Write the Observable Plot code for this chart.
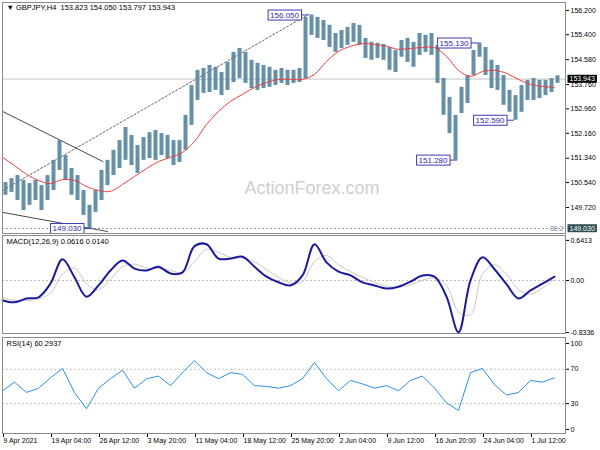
<!DOCTYPE html>
<html><head><meta charset="utf-8">
<script src="https://cdn.jsdelivr.net/npm/d3@7"></script>
<script src="https://cdn.jsdelivr.net/npm/@observablehq/plot@0.6"></script>
<style>
body{margin:0;background:#fff;}
#c{position:relative;width:600px;height:450px;overflow:hidden;background:#fff;}
#c svg{position:absolute;left:0;}
</style></head><body><div id="c"></div>
<script>
// ---- data ----
const symbolHeader = "\u25BC GBPJPY,H4  153.823 154.050 153.797 153.943";
const macdHeader = "MACD(12,26,9) 0.0616 0.0140";
const rsiHeader = "RSI(14) 60.2937";
const groupBars = 4; // bars per price sample
const priceHi = [150.54,150.67,150.77,150.61,150.51,150.61,150.44,150.77,151.27,151.92,
 151.43,151.00,150.77,150.28,149.79,150.28,150.94,151.27,151.60,151.92,
 152.35,152.09,151.76,152.02,152.18,152.25,152.15,152.09,151.92,151.92,
 152.75,153.73,154.23,154.29,154.39,154.33,154.16,154.49,154.82,154.95,
 154.82,154.56,154.46,154.39,154.33,154.23,154.29,154.23,154.23,154.29,
 155.97,156.05,155.97,155.87,155.71,155.44,155.54,155.64,155.77,155.71,
 155.28,155.15,155.12,155.08,154.98,154.88,155.21,155.28,155.15,155.44,
 155.38,155.44,155.05,153.96,153.34,152.75,153.67,154.06,154.88,155.13,
 154.98,154.56,154.39,154.06,153.57,153.40,153.73,153.90,153.96,153.90,
 153.90,153.96,154.05];
const priceLo = [150.12,150.21,149.95,149.62,149.79,149.95,149.62,149.95,150.28,150.94,
 150.61,150.12,149.95,149.46,149.03,149.56,149.95,150.44,150.77,151.00,
 151.27,151.10,150.84,151.27,151.33,151.27,151.43,151.33,151.10,151.20,
 151.60,152.42,153.24,153.47,153.50,153.57,153.40,153.57,153.83,153.96,
 153.80,153.63,153.57,153.63,153.67,153.73,153.80,153.73,153.80,153.83,
 153.96,155.38,155.28,155.21,154.98,154.82,154.95,155.05,155.15,155.05,
 154.62,154.56,154.62,154.56,154.23,154.16,154.66,154.49,154.33,154.72,
 154.82,154.72,153.80,152.75,152.15,151.28,152.81,153.14,154.06,154.66,
 154.06,153.63,153.57,153.08,152.85,152.59,152.85,153.24,153.24,153.30,
 153.40,153.50,153.80];
const indStep = 8; // bars per indicator sample
const maValues = [151.37,151.10,150.81,150.61,150.51,150.64,150.61,150.41,150.28,150.25,
 150.48,150.74,151.00,151.23,151.37,151.53,151.89,152.45,152.88,153.21,
 153.44,153.67,153.83,153.93,153.93,153.93,154.10,154.52,154.85,155.02,
 155.11,155.08,155.02,154.92,154.95,154.98,154.98,154.69,154.23,154.03,
 154.19,154.23,154.13,153.93,153.77,153.70,153.67];
const macdValues = [-0.32,-0.35,-0.29,-0.27,-0.05,0.34,0.05,-0.26,-0.08,0.16,
 0.32,0.19,0.16,0.22,0.11,0.13,0.55,0.58,0.35,0.35,
 0.38,0.22,0.06,-0.03,-0.08,0.08,0.58,0.29,0.14,0.08,
 -0.03,-0.08,-0.13,-0.10,-0.02,0.08,0.06,-0.26,-0.83,0.00,
 0.37,0.18,-0.06,-0.29,-0.16,-0.05,0.06];
const signalValues = [-0.28,-0.32,-0.32,-0.30,-0.20,0.10,0.20,-0.05,-0.15,0.02,
 0.22,0.26,0.20,0.19,0.16,0.12,0.30,0.50,0.45,0.37,
 0.36,0.30,0.17,0.05,-0.04,-0.02,0.30,0.40,0.25,0.14,
 0.05,-0.03,-0.09,-0.11,-0.07,0.00,0.04,-0.08,-0.50,-0.55,
 0.10,0.25,0.10,-0.15,-0.22,-0.12,0.01];
const rsiValues = [45,55,43,48,60,71,43,24,48,59,
 69,48,59,62,51,66,80,66,59,66,
 64,51,50,48,51,59,78,59,45,57,
 53,48,51,45,57,62,48,31,22,66,
 71,52,40,43,57,55,60];
const lastClose = 153.943;
const fibLevel = 149.030;
const fibText = "38.2";
const markLabels = [ // bar index of extreme, price
 {i:204, p:156.050},{i:317, p:155.130},{i:341, p:152.590},{i:303, p:151.280},{i:59, p:149.030}];
const trendUpper = [{i:0,p:152.88},{i:67,p:151.23}];
const trendLower = [{i:0,p:149.56},{i:70,p:148.93}];
const trendDashed = [{i:0,p:150.28},{i:204,p:156.07}];
const priceTicks = [156.200,155.400,154.580,153.760,152.960,152.160,151.340,150.540,149.720];
const macdTicks = [0.6413,0,-0.8336];
const macdTickLabels = ["0.6413","0.00","-0.8336"];
const rsiTicks = [100,70,30,0];
const xTickBars = [0,32,64,96,128,160,192,224,256,288,320,352];
const xTickLabels = ["9 Apr 2021","19 Apr 04:00","26 Apr 12:00","3 May 20:00","11 May 04:00","18 May 12:00","25 May 20:00","2 Jun 04:00","9 Jun 12:00","16 Jun 20:00","24 Jun 04:00","1 Jul 12:00"];

// ---- tables ----
const bars = priceHi.map((h,g)=>({i:g*groupBars+2, hi:h, lo:priceLo[g]}));
const ind = maValues.map((m,k)=>({i:k*indStep, ma:m, macd:macdValues[k], sig:signalValues[k], rsi:rsiValues[k]}));

const FONT = "Liberation Sans, Arial, sans-serif";
const xDom = [0, 375.33];
const frameC = "#8a8a8a";
const baseStyle = {fontFamily: FONT, fontSize: "7px", background: "transparent", overflow: "visible", color: "#000"};
const c = document.getElementById("c");

function place(svg, top){ svg.style.top = top + "px"; c.appendChild(svg); }
function boxify(svg, cls, fill, stroke){
  svg.querySelectorAll(`g.${cls} text`).forEach(t=>{
    const b = t.getBBox();
    const r = document.createElementNS("http://www.w3.org/2000/svg","rect");
    r.setAttribute("x", b.x-2); r.setAttribute("y", b.y-0.5);
    r.setAttribute("width", b.width+4); r.setAttribute("height", b.height+1);
    r.setAttribute("fill", fill); if (stroke) r.setAttribute("stroke", stroke);
    const tr = t.getAttribute("transform"); if (tr) r.setAttribute("transform", tr);
    t.parentNode.insertBefore(r, t);
  });
}

// ---- main price panel ----
const main = Plot.plot({
  width: 600, height: 235, marginLeft: 2, marginRight: 35, marginTop: 2, marginBottom: 2,
  x: {domain: xDom, axis: null},
  y: {domain: [148.865, 156.46], axis: null},
  style: baseStyle,
  marks: [
    Plot.text(["ActionForex.com"], {frameAnchor: "middle", dx: 28, dy: 70, fontSize: 18, fill: "#cfcfcf"}),
    Plot.ruleY([fibLevel], {stroke: "#9a9a9a", strokeDasharray: "2,2"}),
    Plot.ruleY([lastClose], {stroke: "#c4c4c4"}),
    Plot.line(trendDashed, {x: "i", y: "p", stroke: "#555", strokeDasharray: "2,2", strokeWidth: 0.9}),
    Plot.line(trendUpper, {x: "i", y: "p", stroke: "#333", strokeWidth: 0.9}),
    Plot.line(trendLower, {x: "i", y: "p", stroke: "#333", strokeWidth: 0.9}),
    Plot.ruleX(bars, {x: "i", y1: "lo", y2: "hi", stroke: "#5584a0", strokeWidth: 4, strokeOpacity: 0.9}),
    Plot.line(ind, {x: "i", y: "ma", stroke: "#f03c3c", strokeWidth: 1, curve: "catmull-rom"}),
    Plot.link(markLabels, {x1: d=>d.i-5, x2: "i", y1: "p", y2: "p", stroke: "#3a3ab8"}),
    Plot.text(markLabels, {x: d=>d.i-5, y: "p", text: d=>d.p.toFixed(3), textAnchor: "end", dx: -2, fontSize: 8, fill: "#2a2aa8", className: "plbl"}),
    Plot.text([fibText], {frameAnchor: "bottom-right", dx: -2, dy: -3, fill: "#7890a8", fontSize: 7}),
    Plot.axisY({anchor: "right", label: null, ticks: priceTicks, tickSize: 3, tickPadding: 2, tickFormat: d=>d.toFixed(3), fontSize: 7}),
    Plot.text([lastClose], {x: xDom[1], y: d=>d, dx: 4, textAnchor: "start", text: d=>d.toFixed(3), fill: "white", fontSize: 7, className: "pbk"}),
    Plot.text([fibLevel], {x: xDom[1], y: d=>d, dx: 4, textAnchor: "start", text: d=>d.toFixed(3), fill: "white", fontSize: 7, className: "pteal"}),
    Plot.frame({stroke: frameC}),
    Plot.text([symbolHeader], {frameAnchor: "top-left", dx: 4, dy: 2.5, fontSize: 7.5, fill: "#000"})
  ]
});
place(main, 0);
boxify(main, "plbl", "white", "#3a3ab8");
boxify(main, "pbk", "black", null);
boxify(main, "pteal", "#2e4f52", null);

// ---- MACD panel ----
const macd = Plot.plot({
  width: 600, height: 102, marginLeft: 2, marginRight: 35, marginTop: 2, marginBottom: 2,
  x: {domain: xDom, axis: null},
  y: {domain: [-0.85, 0.72], axis: null},
  style: baseStyle,
  marks: [
    Plot.ruleY([0], {stroke: "#b8b8b8", strokeDasharray: "2,2"}),
    Plot.line(ind, {x: "i", y: "sig", stroke: "#c8c8c8", strokeWidth: 1, curve: "catmull-rom"}),
    Plot.line(ind, {x: "i", y: "macd", stroke: "#1a1a9c", strokeWidth: 2, curve: "catmull-rom"}),
    Plot.axisY({anchor: "right", label: null, ticks: macdTicks, tickSize: 3, tickPadding: 2, tickFormat: d=>macdTickLabels[macdTicks.indexOf(d)], fontSize: 7}),
    Plot.frame({stroke: frameC}),
    Plot.text([macdHeader], {frameAnchor: "top-left", dx: 4, dy: 3, fontSize: 7.5, fill: "#000"})
  ]
});
place(macd, 233);

// ---- RSI panel ----
const rsi = Plot.plot({
  width: 600, height: 115, marginLeft: 2, marginRight: 35, marginTop: 2, marginBottom: 17,
  x: {domain: xDom, axis: null},
  y: {domain: [-4.7, 106.9], axis: null},
  style: baseStyle,
  marks: [
    Plot.ruleY([70, 30], {stroke: "#c0c0c0", strokeDasharray: "2,2"}),
    Plot.line(ind, {x: "i", y: "rsi", stroke: "#2b8ff0", strokeWidth: 1}),
    Plot.axisY({anchor: "right", label: null, ticks: rsiTicks, tickSize: 3, tickPadding: 2, fontSize: 7}),
    Plot.axisX({label: null, ticks: xTickBars, tickFormat: d=>xTickLabels[xTickBars.indexOf(d)], textAnchor: "start", dx: 1, tickSize: 4, tickPadding: 1, fontSize: 7}),
    Plot.frame({stroke: frameC}),
    Plot.text([rsiHeader], {frameAnchor: "top-left", dx: 4, dy: 3, fontSize: 7.5, fill: "#000"})
  ]
});
place(rsi, 335);
</script></body></html>
